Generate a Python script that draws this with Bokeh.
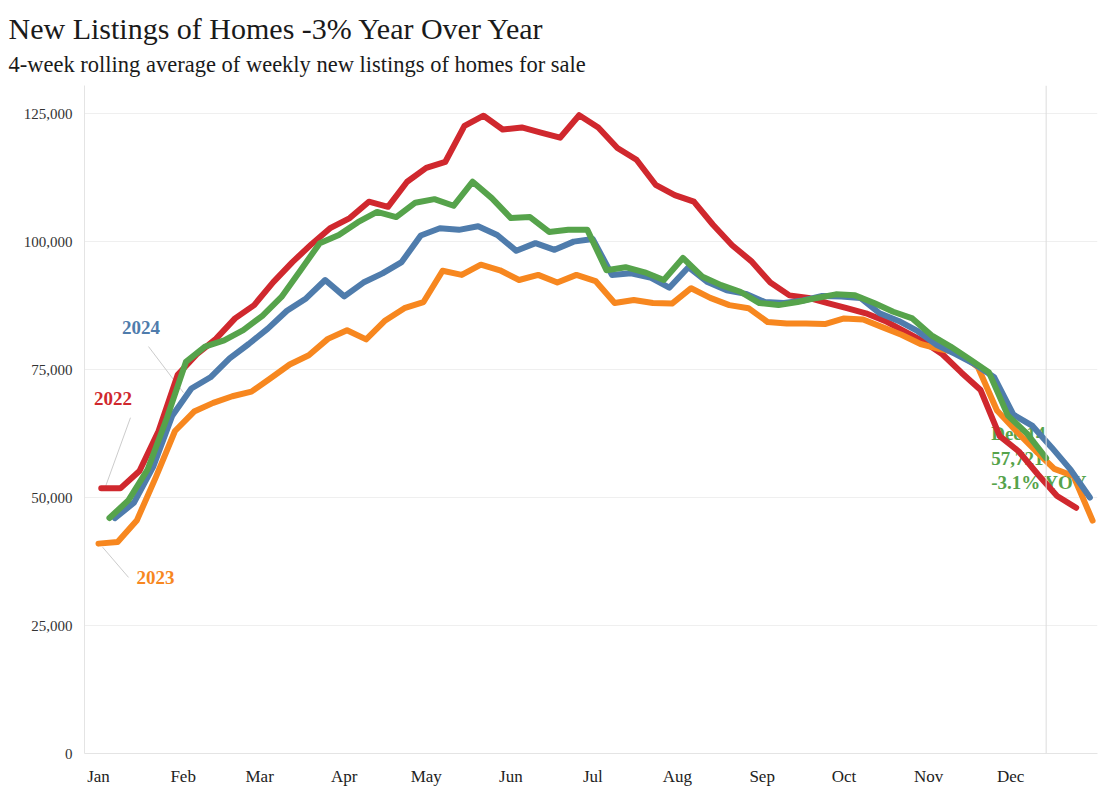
import pandas as pd
from bokeh.plotting import figure
from bokeh.models import Range1d, FixedTicker, Span, Title, NumeralTickFormatter
from bokeh.core.properties import value
from bokeh.embed import file_html
from bokeh.resources import INLINE

# ---------------- data ----------------
title_text = "New Listings of Homes -3% Year Over Year"
subtitle_text = "4-week rolling average of weekly new listings of homes for sale"

month_labels = ["Jan", "Feb", "Mar", "Apr", "May", "Jun",
                "Jul", "Aug", "Sep", "Oct", "Nov", "Dec"]
month_start_days = [0, 31, 59, 90, 120, 151, 181, 212, 243, 273, 304, 334]
y_ticks = [0, 25000, 50000, 75000, 100000, 125000]

years = ["2022", "2023", "2024", "2025"]
first_week_end = ["2022-01-02", "2023-01-01", "2024-01-07", "2025-01-05"]

listings_2022 = [51800, 51800, 55200, 63000, 74000, 78000, 81000, 85000, 87600, 92100,
                 96000, 99500, 102700, 104600, 107800, 106800, 111700, 114400, 115600, 122600,
                 124600, 121900, 122300, 121300, 120300, 124700, 122300, 118300, 116000, 111100,
                 109100, 107800, 103300, 99300, 96200, 92000, 89500, 89000, 88000, 87000,
                 86000, 84500, 82500, 80500, 78000, 74400, 71000, 62000, 59000, 54500,
                 50300, 48000]
listings_2023 = [41000, 41300, 45500, 54000, 63000, 66800, 68500, 69800, 70700, 73300,
                 76000, 77800, 81000, 82700, 80900, 84600, 87000, 88200, 94300, 93500,
                 95500, 94400, 92500, 93500, 92000, 93500, 92300, 88000, 88600, 88000,
                 87900, 90900, 89000, 87600, 87000, 84300, 84000, 84000, 83900, 85000,
                 84800, 83300, 81800, 80000, 79000, 78300, 75500, 67000, 63000, 59200,
                 55600, 54200, 45500]
listings_2024 = [46000, 49000, 56000, 66000, 71300, 73500, 77200, 80000, 83000, 86500,
                 88900, 92500, 89300, 92000, 93800, 96000, 101200, 102600, 102300, 103000,
                 101300, 98200, 99700, 98400, 100000, 100500, 93500, 93800, 93000, 91000,
                 95000, 92100, 90500, 89800, 88200, 88000, 88500, 89400, 89300, 89000,
                 86000, 84500, 82500, 79800, 78000, 76000, 73500, 66200, 64000, 59800,
                 55400, 50000]
listings_2025 = [46000, 49500, 55500, 65500, 76500, 79500, 80700, 82700, 85500, 89200,
                 94400, 99700, 101300, 103800, 105800, 104800, 107600, 108300, 107000, 111700,
                 108500, 104600, 104800, 101900, 102300, 102300, 94400, 95000, 94000, 92500,
                 96800, 93200, 91500, 90200, 88000, 87600, 88200, 89000, 89700, 89500,
                 88000, 86300, 85000, 81700, 79500, 77000, 74500, 66000, 62500, 57721]

series_values = [listings_2022, listings_2023, listings_2024, listings_2025]
series_colors = ["#d0282e", "#f7871f", "#4f7cac", "#56a34b"]

latest_label = "Dec 14"
latest_yoy = "-3.1% YOY"

# year labels (annotation anchor in day-of-year / value) and leader lines
year_label_text = ["2022", "2023", "2024"]
year_label_x = [5.3, 20.9, 15.6]
year_label_y = [69400, 34300, 83200]
leader_x0 = [11.7, 1.5, 18.3]
leader_y0 = [65600, 40300, 79500]
leader_x1 = [2.6, 11.0, 31.1]
leader_y1 = [52200, 34400, 70500]

# ---------------- figure ----------------
SERIF = "Liberation Serif"

p = figure(width=1098, height=790, output_backend="svg", toolbar_location=None,
           x_range=Range1d(-5.13, 365.8), y_range=Range1d(0, 130500),
           min_border_left=84, min_border_top=85, min_border_bottom=37, min_border_right=1)
p.outline_line_color = None
p.background_fill_color = "white"
p.border_fill_color = "white"

p.xgrid.grid_line_color = None
p.ygrid.grid_line_color = "#efefef"
p.ygrid.ticker = FixedTicker(ticks=y_ticks)

p.xaxis.ticker = FixedTicker(ticks=month_start_days)
p.xaxis.major_label_overrides = {d: m for d, m in zip(month_start_days, month_labels)}
p.xaxis.axis_line_color = "#e4e4e4"
p.xaxis.major_tick_line_color = None
p.xaxis.minor_tick_line_color = None
p.xaxis.major_label_text_font = SERIF
p.xaxis.major_label_text_font_size = "17px"
p.xaxis.major_label_text_color = "#222222"
p.xaxis.major_label_standoff = 7

p.yaxis.ticker = FixedTicker(ticks=y_ticks)
p.yaxis.formatter = NumeralTickFormatter(format="0,0")
p.yaxis.axis_line_color = "#e4e4e4"
p.yaxis.major_tick_line_color = None
p.yaxis.minor_tick_line_color = None
p.yaxis.major_label_text_font = SERIF
p.yaxis.major_label_text_font_size = "15px"
p.yaxis.major_label_text_color = "#333333"
p.yaxis.major_label_standoff = 6

# x positions: day of year of each week-ending date
xs_all = []
for start, vals in zip(first_week_end, series_values):
    dates = pd.date_range(start, periods=len(vals), freq="7D")
    xs_all.append([(d - pd.Timestamp(d.year, 1, 1)).days for d in dates])

# reference line at latest week
p.add_layout(Span(location=xs_all[-1][-1], dimension="height",
                  line_color="#dddddd", line_width=1))

# latest-week annotation text (drawn beneath lines)
latest_text = f"{latest_label}\n{listings_2025[-1]:,}\n{latest_yoy}"
p.text(x=[xs_all[-1][-1]], y=[listings_2025[-1]], text=[latest_text],
       x_offset=-55, text_align="left", text_baseline="middle",
       text_font=value(SERIF), text_font_style="bold", text_font_size="19px",
       text_color=series_colors[-1], text_line_height=1.18)

# leader lines
p.segment(x0=leader_x0, y0=leader_y0, x1=leader_x1, y1=leader_y1,
          line_color="#cccccc", line_width=1)

# series lines
for xs, vals, col in zip(xs_all, series_values, series_colors):
    p.line(xs, vals, line_color=col, line_width=6, line_join="round", line_cap="round")

# year labels
p.text(x=year_label_x, y=year_label_y, text=year_label_text,
       text_align="center", text_baseline="middle",
       text_font=value(SERIF), text_font_style="bold", text_font_size="19px",
       text_color=series_colors[:3])

# title and subtitle (subtitle added first so it sits closest to the plot)
p.add_layout(Title(text=subtitle_text, align="left", offset=-76, standoff=17,
                   text_font=SERIF, text_font_size="22.5px", text_font_style="normal",
                   text_color="#1a1a1a"), "above")
p.add_layout(Title(text=title_text, align="left", offset=-76, standoff=-6,
                   text_font=SERIF, text_font_size="30px", text_font_style="normal",
                   text_color="#1a1a1a"), "above")

open("out.html", "w").write(file_html(p, INLINE))
